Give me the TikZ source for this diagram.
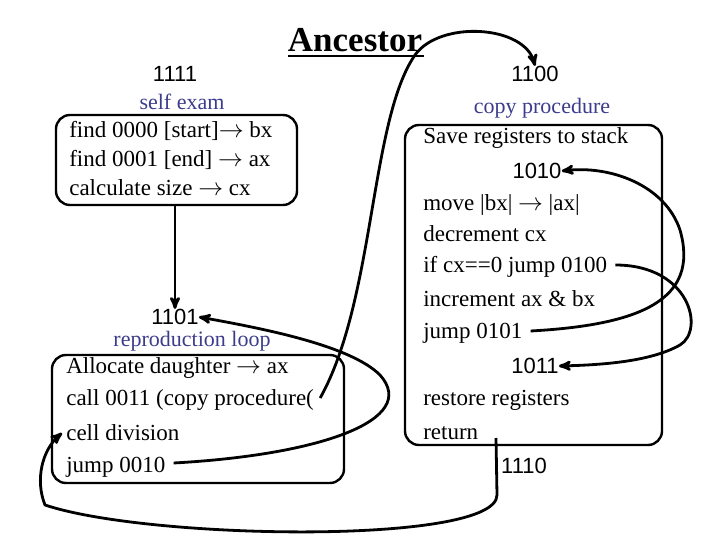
\documentclass[tikz,border=0pt]{standalone}
\usepackage{fontspec}
\setmainfont{Liberation Serif}
\newfontfamily\numfont{Liberation Sans}
\usetikzlibrary{arrows,positioning,calc}
\definecolor{procblue}{RGB}{60,60,140}
\begin{document}
\begin{tikzpicture}[x=1pt,y=-1pt,->,>=stealth',semithick,
    codeline/.style={anchor=west,inner sep=0pt,font=\fontsize{23}{23}\selectfont},
    addr/.style={inner sep=0pt,font=\numfont\fontsize{22}{22}\selectfont},
    label/.style={inner sep=0pt,text=procblue,font=\fontsize{22}{22}\selectfont},
    block/.style={draw,line width=2.4pt,rounded corners=14pt},
    flow/.style={line width=2.8pt,-stealth'}]

    \useasboundingbox (0,0) rectangle (720,540);

    \node[inner sep=0pt,font=\bfseries\fontsize{35}{35}\selectfont](title) at (355,40) {Ancestor};
    \draw[-,line width=2.4pt] (288,56) -- (424,56);

    % self exam block
    \draw[block,-] (56,115) rectangle (297,205);
    \node[addr](a1111) at (175,74) {1111};
    \node[label](selfexam) at (182,102) {self exam};
    \node[codeline](s1) at (69,131) {find 0000 [start]$\rightarrow$ bx};
    \node[codeline](s2) at (69,160) {find 0001 [end] $\rightarrow$ ax};
    \node[codeline](s3) at (69,188) {calculate size $\rightarrow$ cx};
    \coordinate (b1) at (175,205);

    % reproduction loop block
    \node[addr](a1101) at (175,317) {1101};
    \node[label](reploop) at (192,341) {reproduction loop};
    \draw[block,-] (52,355) rectangle (344,483);
    \node[codeline](r1) at (66,368) {Allocate daughter $\rightarrow$ ax};
    \node[codeline](r2) at (66,400) {call 0011 (copy procedure(};
    \node[codeline](r3) at (66,433) {cell division};
    \node[codeline](r4) at (66,467) {jump 0010};

    % copy procedure block
    \node[addr](a1100) at (535,74) {1100};
    \node[label](copyproc) at (542,108) {copy procedure};
    \draw[block,-] (405,125) rectangle (662,445);
    \node[codeline](c1) at (423,138) {Save registers to stack};
    \node[addr](a1010) at (537,171) {1010};
    \node[codeline](c2) at (423,205) {move |bx| $\rightarrow$ |ax|};
    \node[codeline](c3) at (423,234) {decrement cx};
    \node[codeline](c4) at (423,267) {if cx==0 jump 0100};
    \node[codeline](c5) at (423,299) {increment ax \& bx};
    \node[codeline](c6) at (423,333) {jump 0101};
    \node[addr](a1011) at (535,366) {1011};
    \node[codeline](c7) at (423,400) {restore registers};
    \node[codeline](c8) at (423,433) {return};
    \node[addr](a1110) at (524,466) {1110};
    \coordinate (ret) at (496,438);

    % control flow
    \draw[flow] (b1) -- (a1101.north);
    \draw[flow] ($(r2.east)+(6,-2)$) .. controls (375,300) and (370,120) .. (415,55)
        .. controls (440,20) and (525,25) .. (a1100.north);
    \draw[flow] ($(r4.east)+(8,-4)$) .. controls (320,455) and (420,420) .. (380,375)
        .. controls (350,345) and (260,328) .. (a1101.east);
    \draw[flow] ($(c6.east)+(8,-2)$) .. controls (640,325) and (700,300) .. (680,230)
        .. controls (665,185) and (610,165) .. (a1010.east);
    \draw[flow] ($(c4.east)+(8,-2)$) .. controls (690,265) and (705,330) .. (680,345)
        .. controls (650,362) and (600,365) .. (a1011.east);
    \draw[flow] (ret) -- (497,495) .. controls (497,545) and (150,540) .. (45,505)
        .. controls (35,480) and (42,450) .. ($(r3.west)+(-4,0)$);
\end{tikzpicture}
\end{document}
